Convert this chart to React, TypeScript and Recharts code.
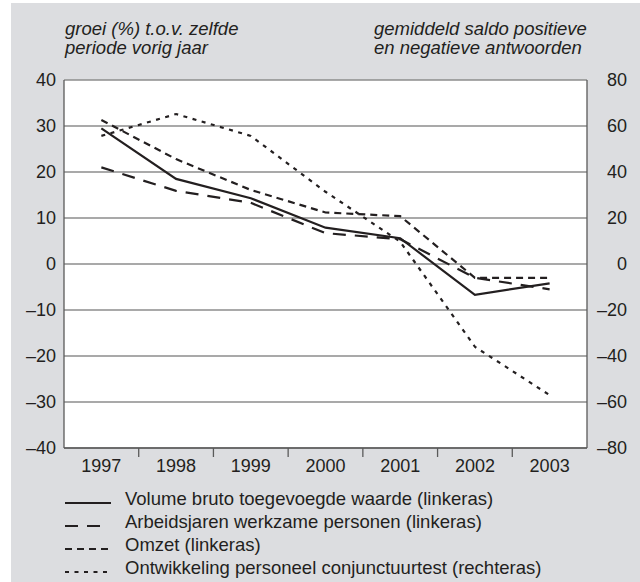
import React from 'react';
import { LineChart, Line, XAxis, YAxis, CartesianGrid, Legend } from 'recharts';

const years = ['1997', '1998', '1999', '2000', '2001', '2002', '2003'];
const volumeBruto = [29.5, 18.5, 14.3, 7.9, 5.6, -6.7, -4.2];
const arbeidsjaren = [21.0, 15.9, 13.3, 6.7, 5.4, -3.0, -5.5];
const omzet = [31.3, 22.8, 16.1, 11.2, 10.4, -3.0, -3.0];
const personeel = [55.7, 65.2, 55.7, 31.4, 9.7, -36, -57];

const leftTicks = [-40, -30, -20, -10, 0, 10, 20, 30, 40];
const rightTicks = [-80, -60, -40, -20, 0, 20, 40, 60, 80];

const seriesNames = [
  'Volume bruto toegevoegde waarde (linkeras)',
  'Arbeidsjaren werkzame personen (linkeras)',
  'Omzet (linkeras)',
  'Ontwikkeling personeel conjunctuurtest (rechteras)',
];
const leftHeader = ['groei (%) t.o.v. zelfde', 'periode vorig jaar'];
const rightHeader = ['gemiddeld saldo positieve', 'en negatieve antwoorden'];

const FONT = '"Liberation Sans", Arial, Helvetica, sans-serif';
const INK = '#231f20';
const AXIS = '#5a5a5a';
const GRID = '#8c8c8c';
const BG = '#dcdde0';

const dashes = [undefined, '13 9', '7 5', '4 5.5'];
const legendDashes = [undefined, '13 9', '7 5', '4 5.5'];
const legendX2 = [111, 100, 108, 107];

const data = years.map((y, i) => ({
  year: y,
  volume: volumeBruto[i],
  arbeid: arbeidsjaren[i],
  omzet: omzet[i],
  personeel: personeel[i],
}));

const fmt = (v: number) => (v < 0 ? '\u2013' + Math.abs(v) : String(v));

function XTick(props: any) {
  const { x, y, payload, index, visibleTicksCount, width } = props;
  const count = visibleTicksCount || years.length;
  const half = (Number(width) || 523) / count / 2;
  return (
    <g>
      <text x={x} y={y + 11} dy="0.71em" textAnchor="middle" fill={INK} fontSize={18} fontFamily={FONT}>
        {payload.value}
      </text>
      {index < count - 1 && (
        <line x1={x + half} x2={x + half} y1={y} y2={y + 9} stroke={AXIS} strokeWidth={1.3} />
      )}
    </g>
  );
}

function RightTick(props: any) {
  const { x, y, payload } = props;
  return (
    <text x={x + 40} y={y} dy="0.355em" textAnchor="end" fill={INK} fontSize={18} fontFamily={FONT}>
      {fmt(payload.value)}
    </text>
  );
}

function LegendContent() {
  const rowY = [23, 46, 69, 92];
  return (
    <svg width={600} height={102} style={{ display: 'block' }}>
      {seriesNames.map((name, i) => (
        <g key={name}>
          <line
            x1={54}
            x2={legendX2[i] - 11}
            y1={rowY[i]}
            y2={rowY[i]}
            stroke={INK}
            strokeWidth={2.2}
            strokeDasharray={legendDashes[i]}
          />
          <text x={114} y={rowY[i] + 1.5} fill={INK} fontSize={18.5} fontFamily={FONT}>
            {name}
          </text>
        </g>
      ))}
    </svg>
  );
}

export default function App() {
  return (
    <div
      style={{
        position: 'absolute',
        left: 11,
        top: 3,
        width: 629,
        height: 579,
        background: BG,
        fontFamily: FONT,
        overflow: 'hidden',
      }}
    >
      <div style={{ position: 'absolute', left: 0, top: 0 }}>
        <LineChart width={629} height={579} data={data} margin={{ top: 77, right: 0, left: 0, bottom: 99 }}>
          <CartesianGrid yAxisId="left" vertical={false} stroke={GRID} strokeWidth={1.3} fill="#ffffff" fillOpacity={1} />
          <XAxis
            dataKey="year"
            scale="band"
            height={35}
            tickSize={0}
            tickMargin={0}
            tickLine={false}
            axisLine={{ stroke: AXIS, strokeWidth: 1.3 }}
            tick={<XTick />}
            interval={0}
          />
          <YAxis
            yAxisId="left"
            orientation="left"
            width={53}
            domain={[-40, 40]}
            ticks={leftTicks}
            interval={0}
            tickLine={false}
            tickFormatter={fmt}
            axisLine={{ stroke: AXIS, strokeWidth: 1.3 }}
            tick={{ fill: INK, fontSize: 18, fontFamily: FONT }}
          />
          <YAxis
            yAxisId="right"
            orientation="right"
            width={53}
            domain={[-80, 80]}
            ticks={rightTicks}
            interval={0}
            tickSize={0}
            tickMargin={0}
            tickLine={false}
            axisLine={{ stroke: AXIS, strokeWidth: 1.3 }}
            tick={<RightTick />}
          />
          <Legend
            layout="horizontal"
            verticalAlign="middle"
            align="center"
            content={<LegendContent />}
            wrapperStyle={{ position: 'absolute', left: 0, top: 477, width: 600, height: 102 }}
          />
          <Line yAxisId="left" type="linear" dataKey="volume" name={seriesNames[0]} stroke={INK} strokeWidth={2.2} dot={false} isAnimationActive={false} />
          <Line yAxisId="left" type="linear" dataKey="arbeid" name={seriesNames[1]} stroke={INK} strokeWidth={2.2} strokeDasharray={dashes[1]} dot={false} isAnimationActive={false} />
          <Line yAxisId="left" type="linear" dataKey="omzet" name={seriesNames[2]} stroke={INK} strokeWidth={2.2} strokeDasharray={dashes[2]} dot={false} isAnimationActive={false} />
          <Line yAxisId="right" type="linear" dataKey="personeel" name={seriesNames[3]} stroke={INK} strokeWidth={2.2} strokeDasharray={dashes[3]} dot={false} isAnimationActive={false} />
        </LineChart>
      </div>
      <svg width={629} height={60} style={{ position: 'absolute', left: 0, top: 0, pointerEvents: 'none' }}>
        {leftHeader.map((t, i) => (
          <text key={t} x={54} y={32 + i * 19} fill={INK} fontSize={18.5} fontStyle="italic" fontFamily={FONT}>
            {t}
          </text>
        ))}
        {rightHeader.map((t, i) => (
          <text key={t} x={363} y={32 + i * 19} fill={INK} fontSize={18.5} fontStyle="italic" fontFamily={FONT}>
            {t}
          </text>
        ))}
      </svg>
    </div>
  );
}
